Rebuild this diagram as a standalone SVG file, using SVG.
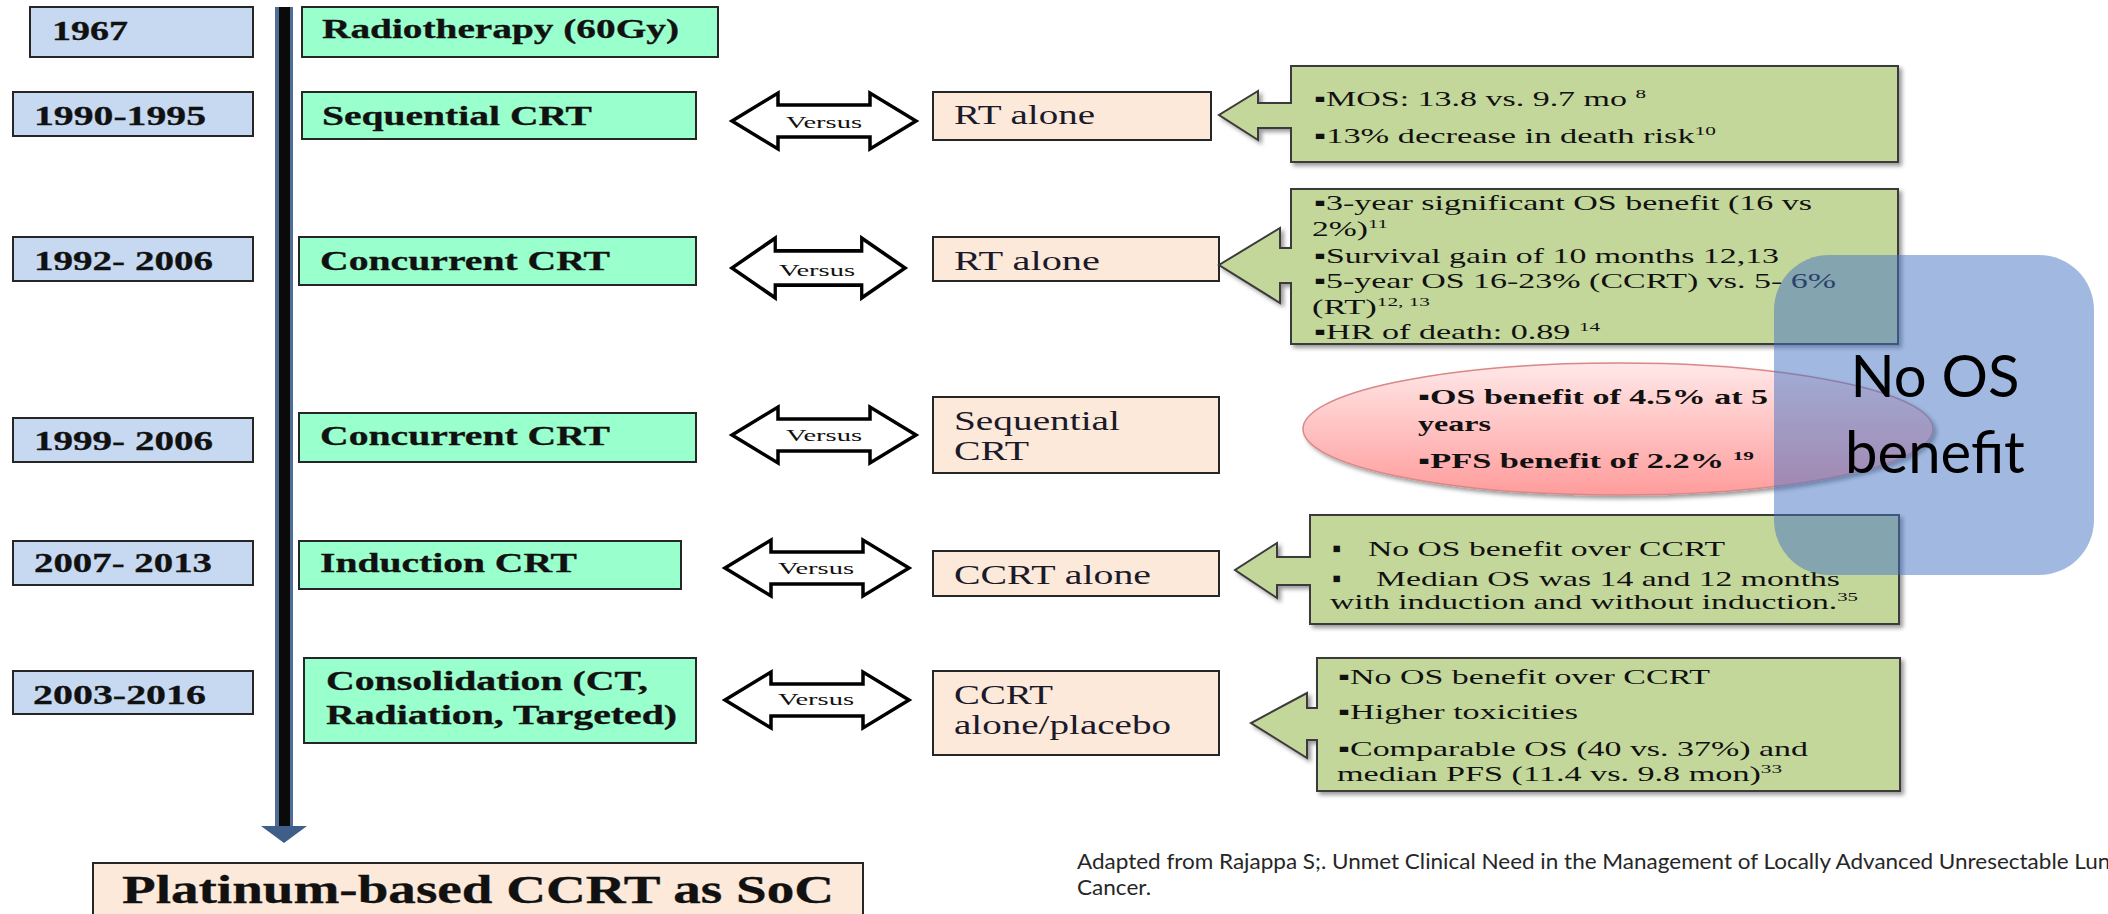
<svg xmlns="http://www.w3.org/2000/svg" width="2108" height="914" viewBox="0 0 2108 914">
<defs>
<style>
.yr{fill:#C6D9F1;stroke:#262626;stroke-width:2}
.tr{fill:#99FFCC;stroke:#262626;stroke-width:2}
.cmp{fill:#FDE9D9;stroke:#262626;stroke-width:2}
.co{fill:#C4D79B;stroke:#3a3a3a;stroke-width:2;filter:url(#sh)}
.vs{fill:#fff;stroke:#000;stroke-width:3.5;stroke-linejoin:miter}
.tb{font-family:"Liberation Serif","Times New Roman",serif;font-weight:bold;font-size:27px;fill:#111;stroke:#111;stroke-width:0.3}
.tc{font-family:"Liberation Serif","Times New Roman",serif;font-size:28px;fill:#1a1a2a}
.tn{font-family:"Liberation Serif","Times New Roman",serif;font-size:21px;fill:#111}
.te{font-family:"Liberation Serif","Times New Roman",serif;font-weight:bold;font-size:21px;fill:#111}
.tv{font-family:"Liberation Serif","Times New Roman",serif;font-size:16px;fill:#111}
.sup{font-size:13px}
.blt{font-size:26px}
.big{font-family:Lato,"Open Sans",sans-serif;font-size:58px;fill:#000}
.foot{font-family:Lato,"Open Sans",sans-serif;font-size:22px;fill:#262626}
</style>
<filter id="sh" x="-5%" y="-5%" width="115%" height="125%">
<feDropShadow dx="3" dy="3" stdDeviation="2" flood-color="#000" flood-opacity="0.4"/>
</filter>
<linearGradient id="pink" x1="0" y1="0" x2="0" y2="1">
<stop offset="0" stop-color="#FFE8E8"/>
<stop offset="1" stop-color="#FF9C9C"/>
</linearGradient>
<path id="dbl" d="M0,0 L46,-28 V-16 H138 V-28 L184,0 L138,28 V16 H46 V28 Z"/>
</defs>
<rect width="2108" height="914" fill="#fff"/>

<g id="connectors">
<rect x="275" y="7" width="18" height="822" fill="#4F6D96"/>
<rect x="279" y="7" width="11" height="822" fill="#0a0a0a"/>
<polygon points="261,826 307,826 284,843" fill="#3F5F8A"/>
<use href="#dbl" class="vs" transform="translate(732,121)"/>
<use href="#dbl" class="vs" transform="translate(732,268) scale(0.94,1.07)"/>
<use href="#dbl" class="vs" transform="translate(732,435)"/>
<use href="#dbl" class="vs" transform="translate(725,568)"/>
<use href="#dbl" class="vs" transform="translate(725,700)"/>
<text class="tv" x="786" y="128" textLength="76" lengthAdjust="spacingAndGlyphs">Versus</text>
<text class="tv" x="779" y="276" textLength="76" lengthAdjust="spacingAndGlyphs">Versus</text>
<text class="tv" x="786" y="441" textLength="76" lengthAdjust="spacingAndGlyphs">Versus</text>
<text class="tv" x="778" y="574" textLength="76" lengthAdjust="spacingAndGlyphs">Versus</text>
<text class="tv" x="778" y="705" textLength="76" lengthAdjust="spacingAndGlyphs">Versus</text>
</g>

<g id="y1967"><rect class="yr" x="30" y="7" width="223" height="50"/><text class="tb" x="52" y="40" textLength="76" lengthAdjust="spacingAndGlyphs">1967</text></g>
<g id="y1990"><rect class="yr" x="13" y="92" width="240" height="44"/><text class="tb" x="34" y="125" textLength="172" lengthAdjust="spacingAndGlyphs">1990-1995</text></g>
<g id="y1992"><rect class="yr" x="13" y="237" width="240" height="44"/><text class="tb" x="34" y="270" textLength="179" lengthAdjust="spacingAndGlyphs">1992- 2006</text></g>
<g id="y1999"><rect class="yr" x="13" y="418" width="240" height="44"/><text class="tb" x="34" y="450" textLength="179" lengthAdjust="spacingAndGlyphs">1999- 2006</text></g>
<g id="y2007"><rect class="yr" x="13" y="541" width="240" height="44"/><text class="tb" x="34" y="572" textLength="178" lengthAdjust="spacingAndGlyphs">2007- 2013</text></g>
<g id="y2003"><rect class="yr" x="13" y="671" width="240" height="43"/><text class="tb" x="33" y="704" textLength="173" lengthAdjust="spacingAndGlyphs">2003-2016</text></g>

<g id="t-radio"><rect class="tr" x="302" y="7" width="416" height="50"/><text class="tb" x="322" y="38" textLength="357" lengthAdjust="spacingAndGlyphs">Radiotherapy (60Gy)</text></g>
<g id="t-seq"><rect class="tr" x="302" y="92" width="394" height="47"/><text class="tb" x="322" y="125" textLength="270" lengthAdjust="spacingAndGlyphs">Sequential CRT</text></g>
<g id="t-conc1"><rect class="tr" x="299" y="237" width="397" height="48"/><text class="tb" x="320" y="270" textLength="290" lengthAdjust="spacingAndGlyphs">Concurrent CRT</text></g>
<g id="t-conc2"><rect class="tr" x="299" y="413" width="397" height="49"/><text class="tb" x="320" y="445" textLength="290" lengthAdjust="spacingAndGlyphs">Concurrent CRT</text></g>
<g id="t-ind"><rect class="tr" x="299" y="541" width="382" height="48"/><text class="tb" x="320" y="572" textLength="257" lengthAdjust="spacingAndGlyphs">Induction CRT</text></g>
<g id="t-cons"><rect class="tr" x="304" y="658" width="392" height="85"/><text class="tb" x="326" y="690" textLength="322" lengthAdjust="spacingAndGlyphs">Consolidation (CT,</text><text class="tb" x="326" y="724" textLength="351" lengthAdjust="spacingAndGlyphs">Radiation, Targeted)</text></g>

<g id="c-rt1"><rect class="cmp" x="933" y="92" width="278" height="48"/><text class="tc" x="954" y="124" textLength="141" lengthAdjust="spacingAndGlyphs">RT alone</text></g>
<g id="c-rt2"><rect class="cmp" x="933" y="237" width="286" height="44"/><text class="tc" x="954" y="270" textLength="146" lengthAdjust="spacingAndGlyphs">RT alone</text></g>
<g id="c-seq"><rect class="cmp" x="933" y="397" width="286" height="76"/><text class="tc" x="954" y="430" textLength="166" lengthAdjust="spacingAndGlyphs">Sequential</text><text class="tc" x="954" y="460" textLength="75" lengthAdjust="spacingAndGlyphs">CRT</text></g>
<g id="c-ccrt"><rect class="cmp" x="933" y="551" width="286" height="45"/><text class="tc" x="954" y="584" textLength="197" lengthAdjust="spacingAndGlyphs">CCRT alone</text></g>
<g id="c-plac"><rect class="cmp" x="933" y="671" width="286" height="84"/><text class="tc" x="954" y="704" textLength="99" lengthAdjust="spacingAndGlyphs">CCRT</text><text class="tc" x="954" y="734" textLength="217" lengthAdjust="spacingAndGlyphs">alone/placebo</text></g>

<g id="n-callout1">
<path class="co" d="M1291,66 H1898 V162 H1291 V128 H1258 V140 L1219,115 L1258,91 V103 H1291 Z"/>
<text class="tn" x="1314" y="106" textLength="332" lengthAdjust="spacingAndGlyphs">▪MOS: 13.8 vs. 9.7 mo <tspan class="sup" dy="-8">8</tspan></text>
<text class="tn" x="1314" y="143" textLength="402" lengthAdjust="spacingAndGlyphs">▪13% decrease in death risk<tspan class="sup" dy="-8">10</tspan></text>
</g>

<g id="n-callout2">
<path class="co" d="M1291,189 H1898 V344 H1291 V283 H1280 V303 L1219,265 L1280,228 V248 H1291 Z"/>
<text class="tn" x="1314" y="210" textLength="498" lengthAdjust="spacingAndGlyphs">▪3-year significant OS benefit (16 vs</text>
<text class="tn" x="1312" y="236" textLength="76" lengthAdjust="spacingAndGlyphs">2%)<tspan class="sup" dy="-8">11</tspan></text>
<text class="tn" x="1314" y="263" textLength="465" lengthAdjust="spacingAndGlyphs">▪Survival gain of 10 months 12,13</text>
<text class="tn" x="1314" y="288" textLength="522" lengthAdjust="spacingAndGlyphs">▪5-year OS 16-23% (CCRT) vs. 5- 6%</text>
<text class="tn" x="1312" y="314" textLength="118" lengthAdjust="spacingAndGlyphs">(RT)<tspan class="sup" dy="-8">12, 13</tspan></text>
<text class="tn" x="1314" y="339" textLength="286" lengthAdjust="spacingAndGlyphs">▪HR of death: 0.89 <tspan class="sup" dy="-8">14</tspan></text>
</g>

<g id="n-ellipse">
<ellipse cx="1618" cy="429" rx="315" ry="66" fill="url(#pink)" stroke="#D98888" stroke-width="1.5" filter="url(#sh)"/>
<text class="te" x="1418" y="404" textLength="350" lengthAdjust="spacingAndGlyphs">▪OS benefit of 4.5% at 5</text>
<text class="te" x="1418" y="431" textLength="73" lengthAdjust="spacingAndGlyphs">years</text>
<text class="te" x="1418" y="468" textLength="336" lengthAdjust="spacingAndGlyphs">▪PFS benefit of 2.2% <tspan class="sup" dy="-8">19</tspan></text>
</g>

<g id="n-callout4">
<path class="co" d="M1310,515 H1899 V624 H1310 V585 H1277 V598 L1235,570 L1277,543 V557 H1310 Z"/>
<text class="tn blt" x="1332" y="557">▪</text>
<text class="tn" x="1368" y="556" textLength="357" lengthAdjust="spacingAndGlyphs">No OS benefit over CCRT</text>
<text class="tn blt" x="1332" y="587">▪</text>
<text class="tn" x="1376" y="586" textLength="464" lengthAdjust="spacingAndGlyphs">Median OS was 14 and 12 months</text>
<text class="tn" x="1330" y="609" textLength="528" lengthAdjust="spacingAndGlyphs">with induction and without induction.<tspan class="sup" dy="-8">35</tspan></text>
</g>

<g id="n-callout5">
<path class="co" d="M1317,658 H1900 V791 H1317 V740 H1307 V758 L1251,723 L1307,693 V708 H1317 Z"/>
<text class="tn" x="1338" y="684" textLength="372" lengthAdjust="spacingAndGlyphs">▪No OS benefit over CCRT</text>
<text class="tn" x="1338" y="719" textLength="240" lengthAdjust="spacingAndGlyphs">▪Higher toxicities</text>
<text class="tn" x="1338" y="756" textLength="470" lengthAdjust="spacingAndGlyphs">▪Comparable OS (40 vs. 37%) and</text>
<text class="tn" x="1337" y="781" textLength="445" lengthAdjust="spacingAndGlyphs">median PFS (11.4 vs. 9.8 mon)<tspan class="sup" dy="-8">33</tspan></text>
</g>

<g id="n-noos">
<rect x="1774" y="255" width="320" height="320" rx="55" ry="55" fill="#4472C4" fill-opacity="0.5"/>
<text class="big" x="1935" y="397" text-anchor="middle">No OS</text>
<text class="big" x="1935" y="473" text-anchor="middle">benefit</text>
</g>

<g id="n-soc">
<rect class="cmp" x="93" y="863" width="770" height="60"/>
<text class="tb" x="122" y="903" style="font-size:39px" textLength="712" lengthAdjust="spacingAndGlyphs">Platinum-based CCRT as SoC</text>
</g>

<g id="n-foot">
<text class="foot" x="1077" y="869" textLength="1045" lengthAdjust="spacingAndGlyphs">Adapted from Rajappa S;. Unmet Clinical Need in the Management of Locally Advanced Unresectable Lung</text>
<text class="foot" x="1077" y="895" textLength="74" lengthAdjust="spacingAndGlyphs">Cancer.</text>
</g>
</svg>
